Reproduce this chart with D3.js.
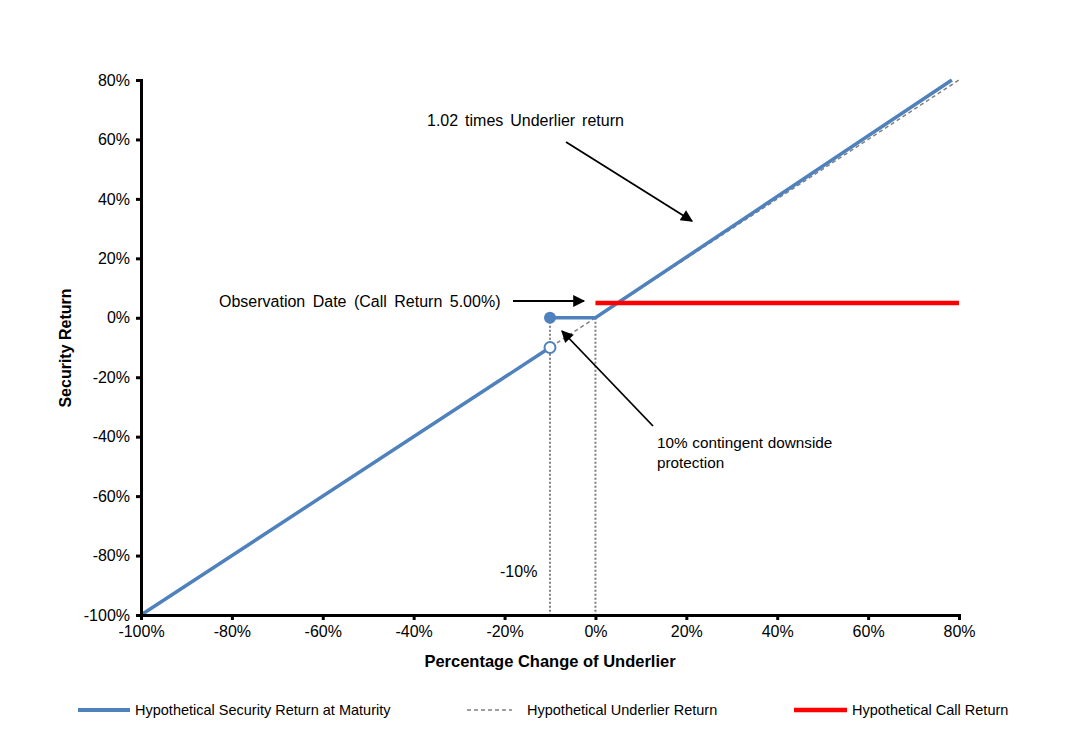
<!DOCTYPE html>
<html>
<head>
<meta charset="utf-8">
<script src="https://cdn.jsdelivr.net/npm/d3@7"></script>
<style>
  body { margin: 0; background: #fff; }
  svg { font-family: "Liberation Sans", Arial, sans-serif; }
</style>
</head>
<body>
<div id="chart"></div>
<script>
/* chart values, in percent */
var tickValues = [-100, -80, -60, -40, -20, 0, 20, 40, 60, 80];
var underlierX = [-100, 80];
var underlierY = [-100, 80];
var securityLowX = [-100, -10];
var securityLowY = [-100, -10];
var securityHighX = [-10, 0, 78.43];
var securityHighY = [0, 0, 80];
var callX = [0, 80];
var callY = [5, 5];
var markerX = [-10, 0];
var markerY = [0, 0];

var width = 1079, height = 754;
var plotLeft = 141, plotRight = 959, plotTop = 80, plotBottom = 615;

var svg = d3.select("#chart").append("svg")
  .attr("width", width)
  .attr("height", height);

svg.append("defs").append("marker")
  .attr("id", "arrow")
  .attr("viewBox", "0 0 10 10")
  .attr("refX", 9).attr("refY", 5)
  .attr("markerWidth", 14).attr("markerHeight", 12)
  .attr("markerUnits", "userSpaceOnUse")
  .attr("orient", "auto")
  .append("path").attr("d", "M0,0 L10,5 L0,10 Z").attr("fill", "#000");

var x = d3.scaleLinear().domain([-100, 80]).range([plotLeft, plotRight]);
var y = d3.scaleLinear().domain([-100, 80]).range([plotBottom, plotTop]);
var pct = function(d) { return d + "%"; };

var line = d3.line().x(function(d) { return x(d[0]); }).y(function(d) { return y(d[1]); });
var zip = function(a, b) { return a.map(function(v, i) { return [v, b[i]]; }); };

/* dotted verticals at -10% and 0% */
markerX.forEach(function(v, i) {
  svg.append("line")
    .attr("x1", x(v)).attr("x2", x(v))
    .attr("y1", y(markerY[i])).attr("y2", y(-100))
    .attr("stroke", "#808080").attr("stroke-width", 2)
    .attr("stroke-dasharray", "2,2");
});

/* underlier (dashed) */
svg.append("path")
  .attr("d", line(zip(underlierX, underlierY)))
  .attr("fill", "none").attr("stroke", "#808080")
  .attr("stroke-width", 1.5).attr("stroke-dasharray", "4,3");

/* security return */
svg.append("path")
  .attr("d", line(zip(securityLowX, securityLowY)))
  .attr("fill", "none").attr("stroke", "#4F81BD").attr("stroke-width", 3.5);
svg.append("path")
  .attr("d", line(zip(securityHighX, securityHighY)))
  .attr("fill", "none").attr("stroke", "#4F81BD").attr("stroke-width", 3.5);

/* call return */
svg.append("path")
  .attr("d", line(zip(callX, callY)))
  .attr("fill", "none").attr("stroke", "#FF0000").attr("stroke-width", 4.5);

/* dots */
svg.append("circle")
  .attr("cx", x(securityHighX[0])).attr("cy", y(securityHighY[0])).attr("r", 6)
  .attr("fill", "#4F81BD");
svg.append("circle")
  .attr("cx", x(securityLowX[1])).attr("cy", y(securityLowY[1])).attr("r", 5.5)
  .attr("fill", "#fff").attr("stroke", "#4F81BD").attr("stroke-width", 2);

/* axes */
var xAxis = svg.append("g")
  .attr("transform", "translate(0," + plotBottom + ")")
  .call(d3.axisBottom(x).tickValues(tickValues).tickFormat(pct).tickSize(5).tickPadding(6));
var yAxis = svg.append("g")
  .attr("transform", "translate(" + plotLeft + ",0)")
  .call(d3.axisLeft(y).tickValues(tickValues).tickFormat(pct).tickSize(5).tickPadding(6));
[xAxis, yAxis].forEach(function(g) {
  g.select(".domain").attr("stroke", "#000").attr("stroke-width", 3);
  g.selectAll(".tick line").attr("stroke", "#000").attr("stroke-width", 3);
  g.selectAll(".tick text").attr("font-size", 16).attr("fill", "#000")
    .attr("font-family", "Liberation Sans, Arial, sans-serif");
});

/* axis titles */
svg.append("text")
  .attr("x", 550).attr("y", 667)
  .attr("text-anchor", "middle").attr("font-size", 16.5).attr("font-weight", "bold")
  .text("Percentage Change of Underlier");
svg.append("text")
  .attr("transform", "translate(71,348) rotate(-90)")
  .attr("text-anchor", "middle").attr("font-size", 16).attr("font-weight", "bold")
  .text("Security Return");

/* annotations */
function note(tx, ty, lines, size, ws) {
  var t = svg.append("text").attr("x", tx).attr("y", ty)
    .attr("font-size", size).attr("word-spacing", ws);
  lines.forEach(function(s, i) {
    t.append("tspan").attr("x", tx).attr("dy", i ? 20 : 0).text(s);
  });
}
function arrow(x1, y1, x2, y2) {
  svg.append("line")
    .attr("x1", x1).attr("y1", y1).attr("x2", x2).attr("y2", y2)
    .attr("stroke", "#000").attr("stroke-width", 1.8)
    .attr("marker-end", "url(#arrow)");
}
note(427, 126, ["1.02 times Underlier return"], 16, 2.5);
arrow(566, 142, 692, 221);
note(219, 307, ["Observation Date (Call Return 5.00%)"], 16, 3);
arrow(513, 301, 584, 301);
note(657, 448, ["10% contingent downside", "protection"], 15.3, 0.5);
arrow(653, 426, 562, 331);
note(500, 577, ["-10%"], 16, 0);

/* legend */
var legend = [
  { label: "Hypothetical Security Return at Maturity", color: "#4F81BD", w: 4, dash: null, x0: 78, x1: 130, tx: 135 },
  { label: "Hypothetical Underlier Return", color: "#808080", w: 1.5, dash: "4,3", x0: 467, x1: 512, tx: 527 },
  { label: "Hypothetical Call Return", color: "#FF0000", w: 4.5, dash: null, x0: 794, x1: 847, tx: 852 }
];
legend.forEach(function(d) {
  svg.append("line")
    .attr("x1", d.x0).attr("x2", d.x1).attr("y1", 710).attr("y2", 710)
    .attr("stroke", d.color).attr("stroke-width", d.w)
    .attr("stroke-dasharray", d.dash);
  svg.append("text")
    .attr("x", d.tx).attr("y", 715).attr("font-size", 14.5)
    .text(d.label);
});
</script>
</body>
</html>
